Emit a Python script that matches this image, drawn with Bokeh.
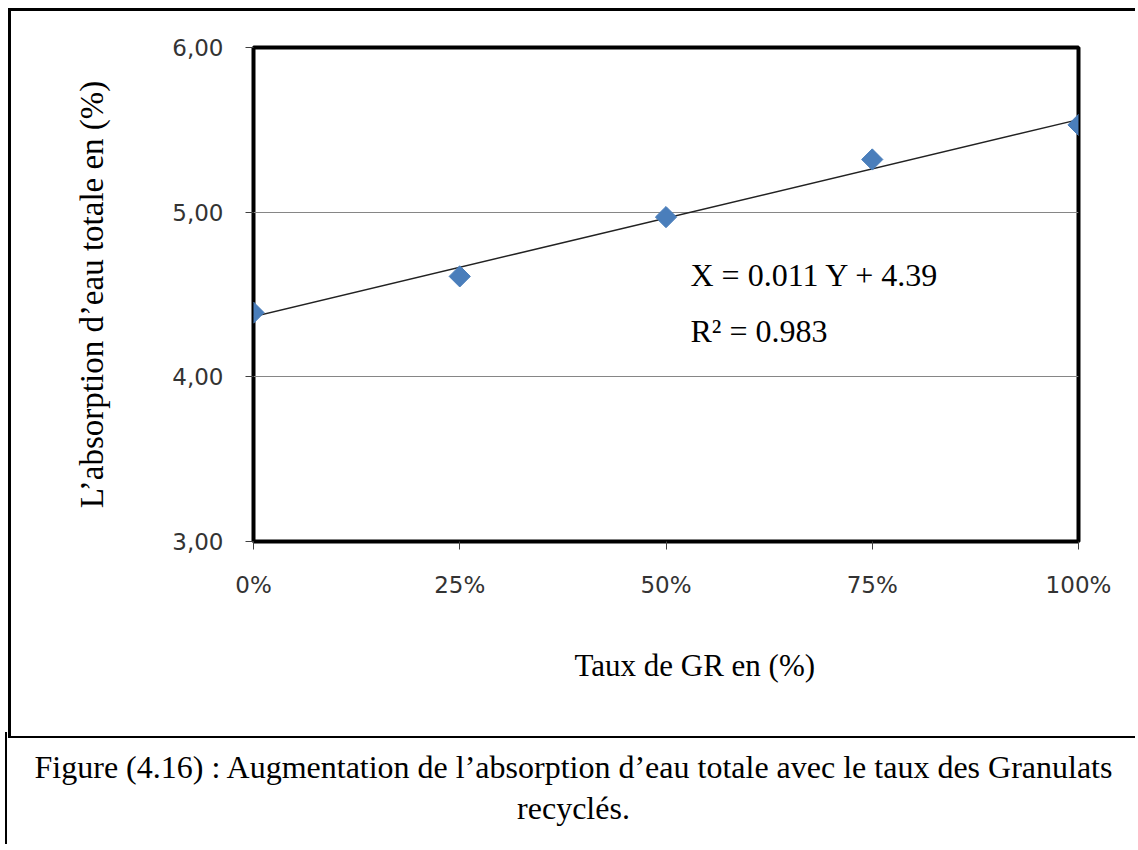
import numpy as np
from bokeh.plotting import figure
from bokeh.layouts import column
from bokeh.models import Range1d, FixedTicker, Label, Title, Div
from bokeh.embed import file_html
from bokeh.resources import INLINE

# ---- data ----
gr_rate = [0, 25, 50, 75, 100]
absorption = [4.39, 4.61, 4.97, 5.32, 5.53]
x_ticks = [0, 25, 50, 75, 100]
x_tick_labels = ["0%", "25%", "50%", "75%", "100%"]
y_ticks = [3, 4, 5, 6]
y_tick_labels = ["3,00", "4,00", "5,00", "6,00"]
equation_lines = ["X = 0.011 Y + 4.39", "R\u00b2 = 0.983"]
x_title = "Taux de GR en (%)"
y_title = "L\u2019absorption d\u2019eau totale en (%)"
caption_lines = [
    "Figure (4.16) : Augmentation de l\u2019absorption d\u2019eau totale avec le taux des Granulats",
    "recycl\u00e9s.",
]

# page geometry of the plotting frame
F_LEFT, F_TOP, F_RIGHT, F_BOTTOM = 253, 47, 1078, 541
ORIGIN = 11          # figure canvas starts at page (11, 11) : 8px margin + 3px border
W, H = 1127, 730

def sx(px):
    return px - F_LEFT

def sy(py):
    return F_BOTTOM - py

serif = "Liberation Serif"

p = figure(width=W, height=H, output_backend="svg", toolbar_location=None,
           x_range=Range1d(0, 100), y_range=Range1d(3, 6),
           min_border_left=F_LEFT - ORIGIN, min_border_top=F_TOP - ORIGIN,
           min_border_right=W - (F_RIGHT - ORIGIN), min_border_bottom=H - (F_BOTTOM - ORIGIN),
           styles={"margin-left": "8px", "margin-top": "8px",
                   "border-left": "3px solid black", "border-top": "3px solid black",
                   "border-bottom": "2px solid black"})
p.outline_line_color = "black"
p.outline_line_width = 4
p.background_fill_color = "white"
p.border_fill_color = "white"

p.xgrid.visible = False
p.ygrid.grid_line_color = "#868686"
p.ygrid.grid_line_width = 1
p.ygrid.ticker = FixedTicker(ticks=[4, 5])

for ax in (p.xaxis[0], p.yaxis[0]):
    ax.axis_line_color = None
    ax.major_tick_out = 8
    ax.major_tick_in = 0
    ax.minor_tick_line_color = None
    ax.major_tick_line_color = "#404040"
    ax.major_tick_line_width = 1
    ax.major_label_text_font = "DejaVu Sans"
    ax.major_label_text_font_size = "23px"
    ax.major_label_text_color = "#333333"

p.xaxis[0].ticker = FixedTicker(ticks=x_ticks)
p.xaxis[0].major_label_overrides = {t: l for t, l in zip(x_ticks, x_tick_labels)}
p.xaxis[0].major_label_standoff = 22
p.yaxis[0].ticker = FixedTicker(ticks=y_ticks)
p.yaxis[0].major_label_overrides = {t: l for t, l in zip(y_ticks, y_tick_labels)}
p.yaxis[0].major_label_standoff = 22
p.yaxis[0].axis_label = y_title
p.yaxis[0].axis_label_text_font = serif
p.yaxis[0].axis_label_text_font_size = "33px"
p.yaxis[0].axis_label_text_font_style = "normal"
p.yaxis[0].axis_label_text_color = "black"
p.yaxis[0].axis_label_standoff = 59

# x title as a title below the axis
p.add_layout(Title(text=x_title, align="left", offset=574 - F_LEFT, standoff=91,
                   text_font=serif, text_font_size="31px", text_font_style="normal",
                   text_color="black", vertical_align="bottom"), "below")

# trend line (least squares fit of the data)
slope, intercept = np.polyfit(gr_rate, absorption, 1)
fit_x = [min(gr_rate), max(gr_rate)]
fit_y = [slope * v + intercept for v in fit_x]
p.line(fit_x, fit_y, line_color="#222222", line_width=1.5)

p.scatter(gr_rate, absorption, marker="square", angle=np.pi / 4, size=15,
          fill_color="#4A7EBB", line_color="#4A7EBB")

# equation
for i, txt in enumerate(equation_lines):
    p.add_layout(Label(x=sx(690), y=sy(274 + 56 * i), x_units="screen", y_units="screen",
                       text=txt, text_font=serif, text_font_size="32px",
                       text_align="left", text_baseline="alphabetic", text_color="black"))

caption = Div(
    text=caption_lines[0] + "<br>" + caption_lines[1],
    width=1131, height=112,
    styles={"margin-left": "5px", "margin-top": "-6px", "border-left": "2px solid black",
            "font-family": serif, "font-size": "32px", "line-height": "41px",
            "text-align": "center", "white-space": "nowrap", "color": "black",
            "padding-top": "15px", "padding-left": "4px", "box-sizing": "border-box"},
)

layout = column(p, caption, spacing=0)
open("out.html", "w").write(file_html(layout, INLINE))
